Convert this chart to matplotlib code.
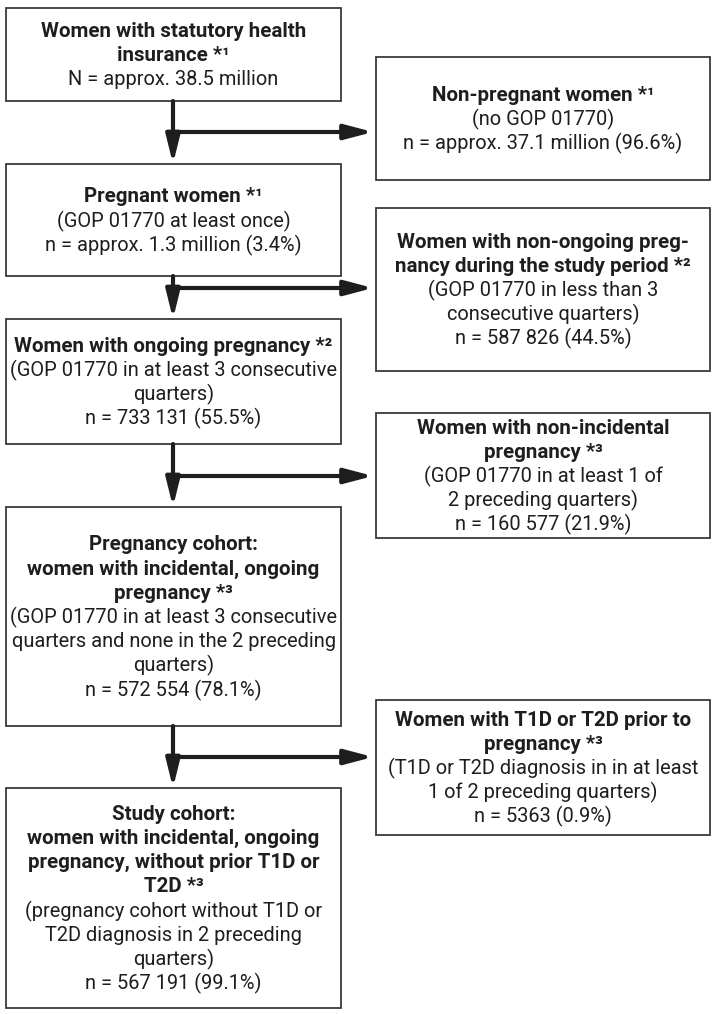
import matplotlib
matplotlib.use("Agg")
import matplotlib.pyplot as plt
from matplotlib.patches import Rectangle
from matplotlib import font_manager
from matplotlib.textpath import TextPath
from matplotlib.font_manager import FontProperties

# ---------------- data ----------------
main_titles = [
    ["Women with statutory health", "insurance *¹"],
    ["Pregnant women *¹"],
    ["Women with ongoing pregnancy *²"],
    ["Pregnancy cohort:", "women with incidental, ongoing", "pregnancy *³"],
    ["Study cohort:", "women with incidental, ongoing", "pregnancy, without prior T1D or", "T2D *³"],
]
main_details = [
    [],
    ["(GOP 01770 at least once)"],
    ["(GOP 01770 in at least 3 consecutive", "quarters)"],
    ["(GOP 01770 in at least 3 consecutive", "quarters and none in the 2 preceding", "quarters)"],
    ["(pregnancy cohort without T1D or", "T2D diagnosis in 2 preceding", "quarters)"],
]
main_counts = ["N = approx. 38.5 million", "n = approx. 1.3 million (3.4%)",
               "n = 733 131 (55.5%)", "n = 572 554 (78.1%)", "n = 567 191 (99.1%)"]

side_titles = [
    ["Non-pregnant women *¹"],
    ["Women with non-ongoing preg-", "nancy during the study period *²"],
    ["Women with non-incidental", "pregnancy *³"],
    ["Women with T1D or T2D prior to", "pregnancy *³"],
]
side_details = [
    ["(no GOP 01770)"],
    ["(GOP 01770 in less than 3", "consecutive quarters)"],
    ["(GOP 01770 in at least 1 of", "2 preceding quarters)"],
    ["(T1D or T2D diagnosis in in at least", "1 of 2 preceding quarters)"],
]
side_counts = ["n = approx. 37.1 million (96.6%)", "n = 587 826 (44.5%)",
               "n = 160 577 (21.9%)", "n = 5363 (0.9%)"]

# ---------------- layout ----------------
W, H = 717, 1014
main_boxes = [(6, 8, 341, 101), (6, 164, 341, 276), (6, 319, 341, 444),
              (6, 507, 341, 726), (6, 788, 341, 1008)]
side_boxes = [(376, 57, 710, 180), (376, 208, 710, 371), (376, 413, 710, 538),
              (376, 700, 710, 835)]
branch_y = [132, 288, 476, 757]
stem_x = 173

avail = {f.name for f in font_manager.fontManager.ttflist}
family = "Roboto" if "Roboto" in avail else "DejaVu Sans"

# fit font size so the reference line width is matched (263 px at 100 dpi)
probe = "Women with statutory health"
fp = FontProperties(family=family, weight="bold", size=10)
wpx = TextPath((0, 0), probe, prop=fp).get_extents().width * 100 / 72
FS = max(10.0, min(10 * 263 / wpx, 16.0))
FS_N = FS * 0.975
LS = 24.2
edge = "#3a3a3a"
ink = "#1e1e1e"

fig = plt.figure(figsize=(W / 100, H / 100), dpi=100)
ax = fig.add_axes([0, 0, 1, 1])
ax.set_xlim(0, W)
ax.set_ylim(H, 0)
ax.axis("off")


def draw_box(box, titles, details, count):
    x0, y0, x1, y1 = box
    ax.add_patch(Rectangle((x0, y0), x1 - x0, y1 - y0, fill=False,
                           edgecolor=edge, lw=1.3))
    lines = [(t, "bold") for t in titles] + [(d, "normal") for d in details] + [(count, "normal")]
    n = len(lines)
    cx = (x0 + x1) / 2
    cy = (y0 + y1) / 2 + 1
    for i, (t, w) in enumerate(lines):
        y = cy + (i - (n - 1) / 2) * LS
        ax.text(cx, y, t, ha="center", va="center",
                fontsize=FS if w == "bold" else FS_N,
                fontweight=w, family=family, color=ink)


for b, t, d, c in zip(main_boxes, main_titles, main_details, main_counts):
    draw_box(b, t, d, c)
for b, t, d, c in zip(side_boxes, side_titles, side_details, side_counts):
    draw_box(b, t, d, c)

# arrows
for i in range(4):
    top = main_boxes[i][3]
    nxt = main_boxes[i + 1][1]
    ax.annotate("", xy=(stem_x, nxt), xytext=(stem_x, top),
                arrowprops=dict(arrowstyle="-|>,head_length=1.7,head_width=0.42",
                                mutation_scale=10, lw=3.0, color=ink,
                                shrinkA=0, shrinkB=0))
    ax.annotate("", xy=(side_boxes[i][0] - 3, branch_y[i]), xytext=(stem_x - 1.5, branch_y[i]),
                arrowprops=dict(arrowstyle="-|>,head_length=1.7,head_width=0.45",
                                mutation_scale=10, lw=3.0, color=ink,
                                shrinkA=0, shrinkB=0))

fig.savefig("out.png", dpi=100, facecolor="white")
